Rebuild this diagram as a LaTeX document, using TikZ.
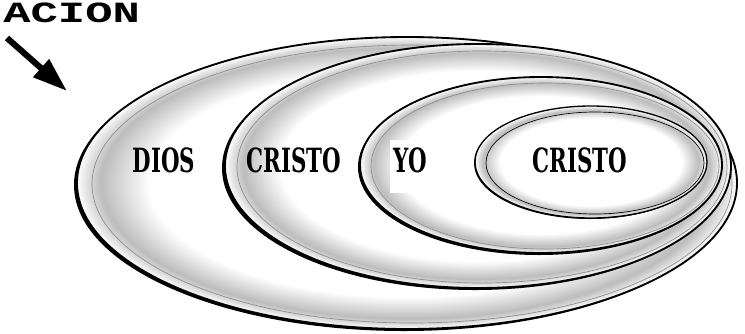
\documentclass[tikz,border=0pt]{standalone}
\usepackage{fontspec}
\newfontfamily\labelfont{DejaVu Serif}
\newfontfamily\typefont{Liberation Mono}
\usetikzlibrary{arrows.meta}
% grey rim fading to white towards the middle
\pgfdeclareradialshading{rimshade}{\pgfpoint{0bp}{0bp}}{color(0bp)=(white); color(19.5bp)=(white); color(23.2bp)=(black!26); color(24.4bp)=(black!10); color(25bp)=(white); color(50bp)=(white)}

\begin{document}
\begin{tikzpicture}[x=0.75pt, y=-0.75pt,
  shadow/.style={fill=black},
  disc/.style={shading=rimshade, draw=black, line width=1.4pt},
  rim/.style={draw=black!45, line width=0.5pt},
  lbl/.style={font=\labelfont\bfseries\fontsize{25}{25}\selectfont, xscale=0.64, inner sep=0pt, anchor=base},
  pointer/.style={line width=4.6pt, -{Triangle[length=26pt, width=17pt]}}]
\useasboundingbox (0,0) rectangle (745,333);
% outer ring
\fill[shadow] (404,185) ellipse [x radius=330, y radius=146];
\path[disc] (407,183) ellipse [x radius=330, y radius=146];
\draw[rim] (412,184) ellipse [x radius=320, y radius=139];
% second ring
\fill[shadow] (475,168) ellipse [x radius=253, y radius=122];
\path[disc] (478,166) ellipse [x radius=253, y radius=122];
\draw[rim] (482,167) ellipse [x radius=245, y radius=116];
% third ring
\fill[shadow] (539,167) ellipse [x radius=181, y radius=88];
\path[disc] (541,165) ellipse [x radius=181, y radius=88];
\draw[rim] (545,166) ellipse [x radius=174, y radius=83];
% inner ring
\fill[shadow] (590,163) ellipse [x radius=116, y radius=56];
\path[disc, line width=1pt] (591,162) ellipse [x radius=116, y radius=56];
\draw[rim, draw=black] (595,163) ellipse [x radius=109, y radius=51];
% labels
\node[lbl] (dios) at (164,172) {DIOS};
\node[lbl] (cristo1) at (294,172) {CRISTO};
\node[lbl, fill=white, text height=24pt, text depth=15.5pt, inner xsep=4pt] (yo) at (410,172) {YO};
\node[lbl] (cristo2) at (580,172) {CRISTO};
\node[font=\typefont\bfseries\fontsize{22}{22}\selectfont, xscale=1.55, anchor=base west, inner sep=0pt] (title) at (3,22) {ACION};
% arrow
\coordinate (tail) at (7,38);
\coordinate (tip) at (67,91);
\draw[pointer] (tail) -- (tip);
\end{tikzpicture}
\end{document}
